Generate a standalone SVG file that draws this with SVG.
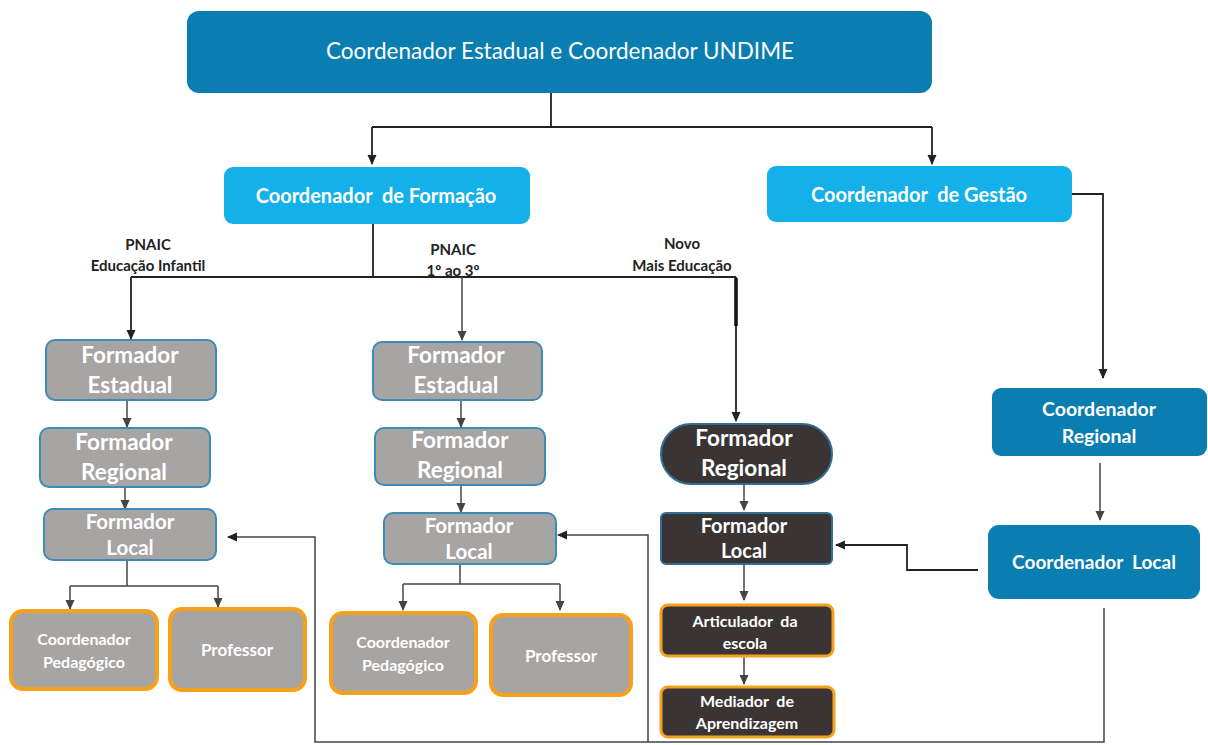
<svg xmlns="http://www.w3.org/2000/svg" width="1208" height="745" viewBox="0 0 1208 745">
<defs>
<marker id="ah" markerWidth="10" markerHeight="10" refX="9" refY="5" orient="auto" markerUnits="userSpaceOnUse">
<path d="M0,0.5 L10,5 L0,9.5 Z" fill="#222"/>
</marker>
<marker id="ahg" markerWidth="10" markerHeight="10" refX="9" refY="5" orient="auto" markerUnits="userSpaceOnUse">
<path d="M0,0.5 L10,5 L0,9.5 Z" fill="#444"/>
</marker>
<style>
.t{font-family:Lato,"Open Sans","Liberation Sans",sans-serif;fill:#fff;text-anchor:middle;white-space:pre}
.b{font-weight:bold}
.lbl{font-family:Lato,"Open Sans","Liberation Sans",sans-serif;fill:#222;font-weight:bold;font-size:15px;text-anchor:middle}
.c{fill:none;stroke:#222;stroke-width:1.8}
.cg{fill:none;stroke:#444;stroke-width:1.5}
.dark{fill:#0a7db1}
.light{fill:#13b0ea}
.gray{fill:#a7a4a4;stroke:#3d8ab8;stroke-width:2}
.grayo{fill:#a7a4a4;stroke:#f6a11c;stroke-width:4}
.blk{fill:#3a3534;stroke:#2f6f92;stroke-width:2}
.blko{fill:#3a3534;stroke:#f6a11c;stroke-width:3}
</style>
</defs>
<rect width="1208" height="745" fill="#fff"/>

<g id="connectors">
<path class="c" d="M551,93 V127 M372,127 H932"/>
<path class="c" d="M372,127 V164" marker-end="url(#ah)"/>
<path class="c" d="M932,127 V164" marker-end="url(#ah)"/>
<path class="c" d="M373,224 V277 M131,277 H736"/>
<path class="c" d="M131,277 V339" marker-end="url(#ah)"/>
<path class="cg" d="M462,277 V340" marker-end="url(#ahg)"/>
<path class="c" d="M736,277 V421" marker-end="url(#ah)"/>
<path d="M736,278 V326" stroke="#111" stroke-width="3.5" fill="none"/>
<path class="c" d="M1072,194 H1103 V378" marker-end="url(#ah)"/>
<path class="cg" d="M127,400 V427" marker-end="url(#ahg)"/>
<path class="cg" d="M125,487 V509" marker-end="url(#ahg)"/>
<path class="cg" d="M127,560 V586 M70,586 H218"/>
<path class="cg" d="M70,586 V609" marker-end="url(#ahg)"/>
<path class="cg" d="M218,586 V607" marker-end="url(#ahg)"/>
<path class="cg" d="M461,400 V427" marker-end="url(#ahg)"/>
<path class="cg" d="M461,485 V512" marker-end="url(#ahg)"/>
<path class="cg" d="M460,564 V584 M403,584 H560"/>
<path class="cg" d="M403,584 V610" marker-end="url(#ahg)"/>
<path class="cg" d="M560,584 V610" marker-end="url(#ahg)"/>
<path class="cg" d="M744,484 V510" marker-end="url(#ahg)"/>
<path class="cg" d="M744,564 V600" marker-end="url(#ahg)"/>
<path class="cg" d="M744,656 V684" marker-end="url(#ahg)"/>
<path class="cg" d="M1100,463 V520" marker-end="url(#ahg)"/>
<path class="c" d="M978,570 H907 V545 H836" marker-end="url(#ah)"/>
<path class="cg" d="M1104,608 V742 H315 V537 H228" marker-end="url(#ah)"/>
<path class="cg" d="M648,742 V535 H558" marker-end="url(#ah)"/>
</g>

<g id="labels">
<text class="lbl" x="148" y="250">PNAIC</text>
<text class="lbl" x="148" y="271">Educação Infantil</text>
<text class="lbl" x="453" y="255">PNAIC</text>
<text class="lbl" x="453" y="276">1º ao 3º</text>
<text class="lbl" x="682" y="249">Novo</text>
<text class="lbl" x="682" y="271">Mais Educação</text>
</g>

<g id="n-top"><rect class="dark" x="187" y="11" width="745" height="82" rx="12"/>
<text class="t" x="560" y="59" font-size="22.5">Coordenador Estadual e Coordenador UNDIME</text></g>

<g id="n-formacao"><rect class="light" x="224" y="167" width="306" height="57" rx="9"/>
<text class="t b" x="376" y="203" font-size="20">Coordenador  de Formação</text></g>

<g id="n-gestao"><rect class="light" x="767" y="166" width="305" height="56" rx="9"/>
<text class="t b" x="919" y="202" font-size="20">Coordenador  de Gestão</text></g>

<g id="n-l-estadual"><rect class="gray" x="46" y="340" width="170" height="60" rx="9"/>
<text class="t b" x="130" y="363" font-size="22.5">Formador</text><text class="t b" x="130" y="393" font-size="22.5">Estadual</text></g>
<g id="n-l-regional"><rect class="gray" x="40" y="428" width="170" height="59" rx="9"/>
<text class="t b" x="124" y="450" font-size="22.5">Formador</text><text class="t b" x="124" y="480" font-size="22.5">Regional</text></g>
<g id="n-l-local"><rect class="gray" x="44" y="509" width="172" height="51" rx="9"/>
<text class="t b" x="130" y="529" font-size="20.5">Formador</text><text class="t b" x="130" y="555" font-size="20.5">Local</text></g>
<g id="n-l-coordped"><rect class="grayo" x="11" y="611" width="146" height="78" rx="12"/>
<text class="t b" x="84" y="645" font-size="16">Coordenador</text><text class="t b" x="84" y="668" font-size="16">Pedagógico</text></g>
<g id="n-l-prof"><rect class="grayo" x="170" y="609" width="135" height="81" rx="12"/>
<text class="t b" x="237" y="656" font-size="17">Professor</text></g>

<g id="n-m-estadual"><rect class="gray" x="373" y="342" width="169" height="58" rx="9"/>
<text class="t b" x="456" y="363" font-size="22.5">Formador</text><text class="t b" x="456" y="393" font-size="22.5">Estadual</text></g>
<g id="n-m-regional"><rect class="gray" x="375" y="428" width="170" height="57" rx="9"/>
<text class="t b" x="460" y="448" font-size="22.5">Formador</text><text class="t b" x="460" y="478" font-size="22.5">Regional</text></g>
<g id="n-m-local"><rect class="gray" x="384" y="513" width="172" height="51" rx="9"/>
<text class="t b" x="469" y="533" font-size="20.5">Formador</text><text class="t b" x="469" y="559" font-size="20.5">Local</text></g>
<g id="n-m-coordped"><rect class="grayo" x="331" y="613" width="145" height="80" rx="12"/>
<text class="t b" x="403" y="648" font-size="16">Coordenador</text><text class="t b" x="403" y="671" font-size="16">Pedagógico</text></g>
<g id="n-m-prof"><rect class="grayo" x="491" y="615" width="140" height="80" rx="12"/>
<text class="t b" x="561" y="662" font-size="17">Professor</text></g>

<g id="n-r-regional"><rect class="blk" x="661" y="424" width="171" height="60" rx="30"/>
<text class="t b" x="744" y="446" font-size="22.5">Formador</text><text class="t b" x="744" y="476" font-size="22.5">Regional</text></g>
<g id="n-r-local"><rect class="blk" x="661" y="513" width="171" height="51" rx="5"/>
<text class="t b" x="744" y="533" font-size="20">Formador</text><text class="t b" x="744" y="558" font-size="20">Local</text></g>
<g id="n-r-articulador"><rect class="blko" x="661" y="605" width="172" height="51" rx="7"/>
<text class="t b" x="745" y="627" font-size="16">Articulador  da</text><text class="t b" x="745" y="649" font-size="16">escola</text></g>
<g id="n-r-mediador"><rect class="blko" x="661" y="687" width="173" height="50" rx="7"/>
<text class="t b" x="747" y="707" font-size="16">Mediador  de</text><text class="t b" x="747" y="729" font-size="16">Aprendizagem</text></g>

<g id="n-coordregional"><rect class="dark" x="992" y="388" width="215" height="68" rx="9"/>
<text class="t b" x="1099" y="416" font-size="19.5">Coordenador</text><text class="t b" x="1099" y="443" font-size="19.5">Regional</text></g>
<g id="n-coordlocal"><rect class="dark" x="988" y="525" width="212" height="74" rx="11"/>
<text class="t b" x="1094" y="569" font-size="19">Coordenador  Local</text></g>
</svg>
